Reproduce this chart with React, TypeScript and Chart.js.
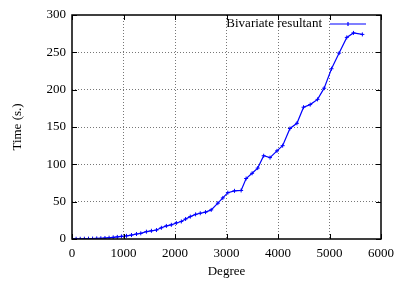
import React, { useEffect, useRef } from "react";
import { Chart, registerables } from "chart.js";

Chart.register(...registerables);

const degrees = [0, 80, 160, 240, 320, 400, 480, 560, 640, 720, 800, 880, 960, 1058, 1155, 1252, 1335, 1445, 1542, 1640, 1735, 1832, 1929, 2026, 2123, 2206, 2297, 2400, 2490, 2593, 2703, 2832, 2929, 3026, 3155, 3284, 3381, 3497, 3606, 3722, 3845, 3980, 4090, 4232, 4368, 4496, 4625, 4768, 4896, 5039, 5187, 5336, 5465, 5638];
const times = [0.3, 0.3, 0.3, 0.4, 0.5, 0.6, 0.8, 1.0, 1.3, 1.7, 2.2, 2.8, 3.5, 4.2, 5.3, 6.7, 7.6, 9.8, 11, 12, 15, 17.5, 19, 21.5, 23.5, 26.8, 30, 33, 34.5, 36, 39, 48, 55, 62, 64.5, 65, 81, 88, 95, 111.5, 109, 118, 125, 148, 155, 176.5, 180, 187, 202, 228, 249, 270, 276, 274];
const xTicks = [0, 1000, 2000, 3000, 4000, 5000, 6000];
const yTicks = [0, 50, 100, 150, 200, 250, 300];
const seriesLabel = "Bivariate resultant";
const xTitle = "Degree";
const yTitle = "Time (s.)";

const FONT = "'Liberation Serif', 'Times New Roman', serif";

const framePlugin = {
  id: "frame",
  afterDraw(chart: any) {
    const { ctx, chartArea: a, scales } = chart;
    const xs = scales.x, ys = scales.y;
    ctx.save();
    ctx.strokeStyle = "#000";
    ctx.lineWidth = 1;
    const tl = 5;
    ctx.beginPath();
    xTicks.forEach((v) => {
      const px = Math.round(xs.getPixelForValue(v)) + 0.5;
      ctx.moveTo(px, a.bottom);
      ctx.lineTo(px, a.bottom - tl);
      ctx.moveTo(px, a.top);
      ctx.lineTo(px, a.top + tl);
    });
    yTicks.forEach((v) => {
      const py = Math.round(ys.getPixelForValue(v)) + 0.5;
      ctx.moveTo(a.left, py);
      ctx.lineTo(a.left + tl, py);
      ctx.moveTo(a.right, py);
      ctx.lineTo(a.right - tl, py);
    });
    ctx.stroke();
    ctx.lineWidth = 1.5;
    ctx.strokeRect(a.left, a.top, a.right - a.left, a.bottom - a.top);
    ctx.font = `13px ${FONT}`;
    ctx.fillStyle = "#000";
    ctx.textAlign = "right";
    ctx.textBaseline = "middle";
    ctx.fillText(seriesLabel, 322, 24);
    ctx.strokeStyle = "#0000ff";
    ctx.lineWidth = 1.2;
    ctx.beginPath();
    ctx.moveTo(330, 24);
    ctx.lineTo(366, 24);
    ctx.moveTo(348, 22);
    ctx.lineTo(348, 26);
    ctx.stroke();
    ctx.textAlign = "center";
    ctx.fillText(xTitle, (a.left + a.right) / 2, 272);
    ctx.translate(18, (a.top + a.bottom) / 2);
    ctx.rotate(-Math.PI / 2);
    ctx.fillText(yTitle, 0, 0);
    ctx.restore();
  },
};

export default function App() {
  const ref = useRef<HTMLCanvasElement>(null);
  useEffect(() => {
    const canvas = ref.current!;
    const gridColor = (max: number) => (c: any) =>
      c.tick && (c.tick.value === 0 || c.tick.value === max) ? "rgba(0,0,0,0)" : "#777";
    const chart = new Chart(canvas, {
      type: "line",
      data: {
        datasets: [
          {
            label: seriesLabel,
            data: degrees.map((d, i) => ({ x: d, y: times[i] })),
            borderColor: "#0000ff",
            backgroundColor: "#0000ff",
            borderWidth: 1.2,
            pointStyle: "cross",
            pointRadius: 2,
            pointBorderWidth: 1,
            pointBorderColor: "#0000ff",
            tension: 0,
            fill: false,
          },
        ],
      },
      options: {
        animation: false,
        responsive: false,
        maintainAspectRatio: false,
        layout: { padding: { left: 0, right: 19, top: 15, bottom: 0 } },
        plugins: { legend: { display: false }, tooltip: { enabled: false } },
        scales: {
          x: {
            type: "linear",
            min: 0,
            max: 6000,
            afterBuildTicks: (s: any) => {
              s.ticks = xTicks.map((v) => ({ value: v }));
            },
            afterFit: (s: any) => {
              s.height = 47;
            },
            ticks: {
              color: "#000",
              font: { family: FONT, size: 13 },
              padding: 7,
              maxRotation: 0,
              callback: (v: any) => String(v),
            },
            grid: { color: gridColor(6000), lineWidth: 1, drawTicks: false },
            border: { display: false, dash: [1, 2] },
          },
          y: {
            type: "linear",
            min: 0,
            max: 300,
            afterBuildTicks: (s: any) => {
              s.ticks = yTicks.map((v) => ({ value: v }));
            },
            afterFit: (s: any) => {
              s.width = 72;
            },
            ticks: {
              color: "#000",
              font: { family: FONT, size: 13 },
              padding: 6,
              callback: (v: any) => String(v),
            },
            grid: { color: gridColor(300), lineWidth: 1, drawTicks: false },
            border: { display: false, dash: [1, 2] },
          },
        },
      } as any,
      plugins: [framePlugin],
    });
    return () => chart.destroy();
  }, []);
  return (
    <div style={{ position: "fixed", left: 0, top: 0, width: 401, height: 286, background: "#fff" }}>
      <canvas ref={ref} width={401} height={286} style={{ width: 401, height: 286, display: "block" }} />
    </div>
  );
}
